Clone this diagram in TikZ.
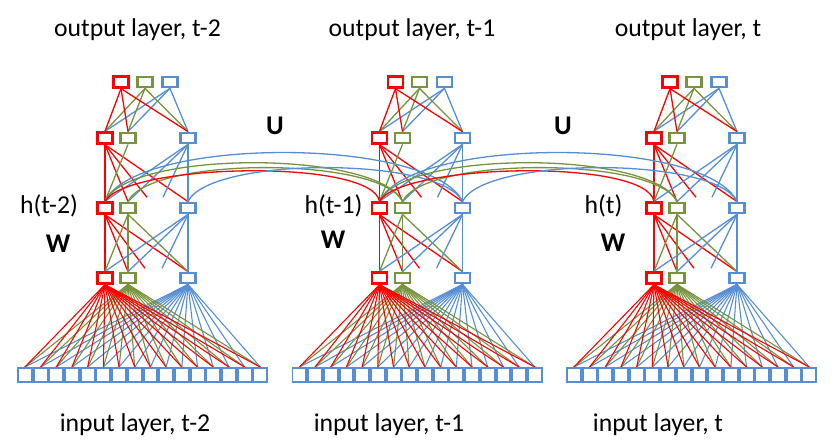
\documentclass[tikz,border=0pt]{standalone}
\usepackage{fontspec}
\setmainfont{Carlito}
\usepackage{tikz}
\usetikzlibrary{backgrounds}
\definecolor{nred}{RGB}{255,0,0}
\definecolor{ngreen}{RGB}{119,147,60}
\definecolor{nblue}{RGB}{85,142,213}
\pgfdeclarelayer{edgelayer}
\pgfdeclarelayer{nodelayer}
\pgfsetlayers{edgelayer,nodelayer,main}
\tikzstyle{none}=[inner sep=0pt]
\tikzstyle{unit}=[rectangle,fill=white,minimum width=15,minimum height=10.5,inner sep=0pt]
\tikzstyle{runit}=[unit,draw=nred,line width=2.8]
\tikzstyle{gunit}=[unit,draw=ngreen,line width=2.3]
\tikzstyle{bunit}=[unit,draw=nblue,line width=2.3]
\tikzstyle{inunit}=[rectangle,fill=white,draw=nblue,line width=1.9,minimum width=13.8,minimum height=14,inner sep=0pt]
\tikzstyle{link r}=[-,draw=nred,line width=1.3]
\tikzstyle{link g}=[-,draw=ngreen,line width=1.3]
\tikzstyle{link b}=[-,draw=nblue,line width=1.3]
\tikzstyle{title}=[font=\fontsize{25.7}{30}\selectfont,anchor=base,inner sep=0pt]
\tikzstyle{mark label}=[font=\fontsize{27}{31}\selectfont\bfseries,anchor=base,inner sep=0pt]

\begin{document}
\begin{tikzpicture}[x=1pt,y=1pt]
	\useasboundingbox (0,0) rectangle (836,443);
	\begin{pgfonlayer}{nodelayer}
		\foreach \c in {0,1,2} {
		\begin{scope}[xshift=274.5*\c]
			\node [style=runit] (or\c) at (121, 361) {};
			\node [style=gunit] (og\c) at (145, 361) {};
			\node [style=bunit] (ob\c) at (170, 361) {};

			\node [style=runit] (ar\c) at (105, 305) {};
			\node [style=gunit] (ag\c) at (128, 305) {};
			\node [style=bunit] (ab\c) at (188, 305) {};

			\node [style=runit] (hr\c) at (105, 235) {};
			\node [style=gunit] (hg\c) at (128, 235) {};
			\node [style=bunit] (hb\c) at (188, 235) {};

			\node [style=runit] (br\c) at (105, 165) {};
			\node [style=gunit] (bg\c) at (128, 165) {};
			\node [style=bunit] (bb\c) at (188, 165) {};

			% ends of the links to the units left out
			\node [style=none] (dal\c) at (147, 245) {};
			\node [style=none] (dar\c) at (163, 245) {};
			\node [style=none] (dbl\c) at (145, 174) {};
			\node [style=none] (dbr\c) at (162, 174) {};

			\foreach \i in {1,...,16}
				\node [style=inunit] (in\c-\i) at ({24.85+15.7*(\i-1)}, 68) {};
		\end{scope}
		}

		\node [style=title] (out0) at (137.5, 406) {output layer, t-2};
		\node [style=title] (out1) at (412, 406) {output layer, t-1};
		\node [style=title] (out2) at (688, 406) {output layer, t};
		\node [style=title] (inp0) at (135, 11) {input layer, t-2};
		\node [style=title] (inp1) at (389, 11) {input layer, t-1};
		\node [style=title] (inp2) at (658, 11) {input layer, t};

		\node [style=title] (h0) at (49, 229) {h(t-2)};
		\node [style=title] (h1) at (333.5, 229) {h(t-1)};
		\node [style=title] (h2) at (603.5, 229) {h(t)};

		\node [style=mark label] (W0) at (58, 190) {W};
		\node [style=mark label] (W1) at (333, 194) {W};
		\node [style=mark label] (W2) at (613, 191) {W};
		\node [style=mark label] (U0) at (275, 308) {U};
		\node [style=mark label] (U1) at (563, 308) {U};
	\end{pgfonlayer}
	\begin{pgfonlayer}{edgelayer}
		\foreach \c in {0,1,2} {
			\foreach \s in {b,g,r}
				\foreach \t in {r,g,b}
					\draw [style=link \s] (o\s\c.south) to (a\t\c.north);

			\foreach \t in {hr,hg,dal,hb}
				\draw [style=link r] (ar\c.south) to (\t\c.north);
			\draw [style=link g] (ag\c.south) to (hr\c.north);
			\foreach \t in {hr,hg,dar,hb}
				\draw [style=link b] (ab\c.south) to (\t\c.north);

			\foreach \t in {br,bg,dbl,bb}
				\draw [style=link r] (hr\c.south) to (\t\c.north);
			\foreach \t in {br,bg,bb}
				\draw [style=link g] (hg\c.south) to (\t\c.north);
			\foreach \t in {br,bg,dbr,bb}
				\draw [style=link b] (hb\c.south) to (\t\c.north);

			\foreach \s in {b,g,r}
				\foreach \i in {1,...,16}
					\draw [style=link \s, line width=1.1] (b\s\c.south) to (in\c-\i.north);
		}

		% recurrent links U
		\foreach \c/\n in {0/1,1/2} {
			\draw [style=link b] (hr\c.north) to [out=65, in=115, distance=72pt] (hb\n.north);
			\draw [style=link g] (hr\c.north) to [out=65, in=115, distance=57pt] (hg\n.north);
			\draw [style=link g] (hg\c.north) to [out=65, in=115, distance=50pt] (hg\n.north);
			\draw [style=link r] (hr\c.north) to [out=60, in=100, distance=44pt] (hr\n.north);
			\draw [style=link b] (hb\c.north) to [out=65, in=115, distance=50pt] (hb\n.north);
		}
	\end{pgfonlayer}
\end{tikzpicture}
\end{document}
